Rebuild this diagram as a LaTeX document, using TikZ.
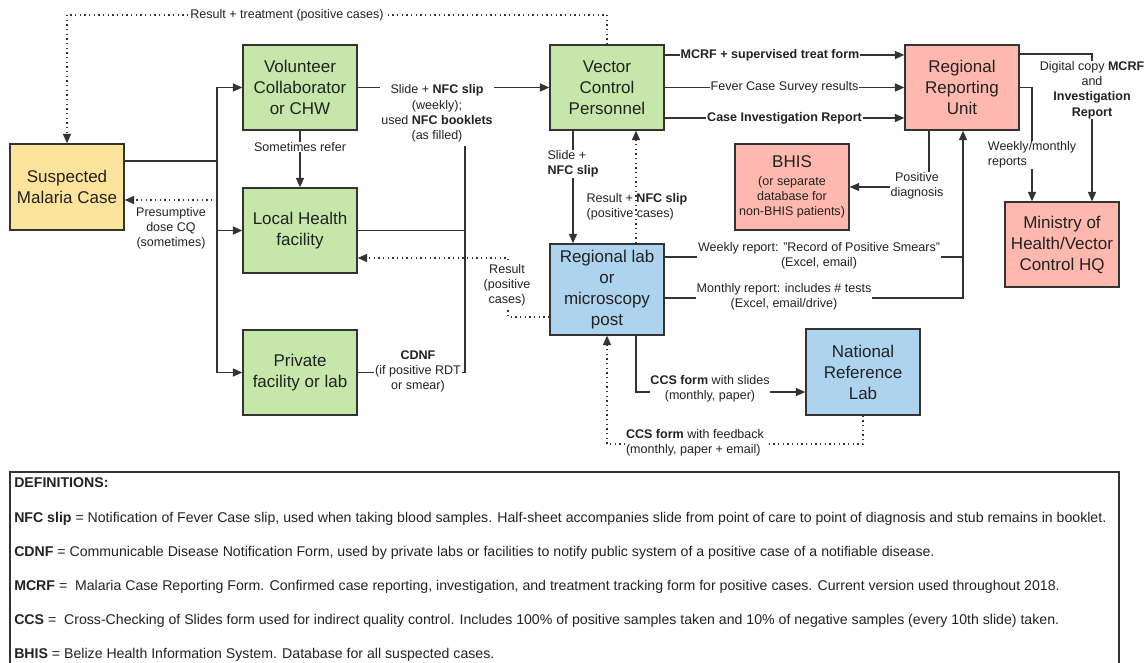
\documentclass[tikz,border=0pt]{standalone}
\usepackage{fontspec}
\setmainfont{Liberation Sans}
\usetikzlibrary{arrows.meta,calc}
\definecolor{edge}{HTML}{333333}
\definecolor{ink}{HTML}{222222}
\definecolor{gfill}{HTML}{C6E7AA}
\definecolor{yfill}{HTML}{FDE49C}
\definecolor{rfill}{HTML}{FFB8AE}
\definecolor{bfill}{HTML}{AED3EE}
\begin{document}
\begin{tikzpicture}[x=0.75pt,y=-0.75pt,
  box/.style={draw=edge,line width=1.05pt,minimum width=85.5pt,minimum height=63.75pt,
    align=center,text=ink,font=\fontsize{12.75}{15.75}\selectfont,inner sep=0pt},
  conn/.style={draw=edge,line width=1pt},
  arr/.style={conn,-{Triangle[length=7pt,width=6pt]}},
  dots/.style={conn,dash pattern=on 0.9pt off 2.6pt},
  dotarr/.style={dots,-{Triangle[length=7pt,width=6pt]}},
  lbl/.style={font=\fontsize{9.4}{11.4}\selectfont,text=ink,align=center,inner sep=0.6pt},
  wlbl/.style={lbl,fill=white},
  defl/.style={font=\fontsize{10.6}{12.7}\selectfont,text=ink,anchor=base west,inner sep=0pt},
]
\useasboundingbox (0,0) rectangle (1148,662);

% ---- boxes ----
\node[box,fill=yfill,minimum height=64.5pt] (susp) at (67,187) {Suspected\\Malaria Case};
\node[box,fill=gfill] (vol) at (300,87.5) {Volunteer\\Collaborator\\or CHW};
\node[box,fill=gfill] (loc) at (300,230.5) {Local Health\\facility};
\node[box,fill=gfill] (priv) at (300,372.5) {Private\\facility or lab};
\node[box,fill=gfill] (vec) at (607,87.5) {Vector\\Control\\Personnel};
\node[box,fill=rfill] (rep) at (962,87.5) {Regional\\Reporting\\Unit};
\node[box,fill=rfill,minimum height=64.5pt,font=\fontsize{9.4}{11.25}\selectfont] (bhis) at (792,187)
  {{\fontsize{12.75}{15}\selectfont BHIS}\\[2pt](or separate\\database for\\non-BHIS patients)};
\node[box,fill=rfill] (min) at (1062,244.5) {Ministry of\\Health/Vector\\Control HQ};
\node[box,fill=bfill,minimum height=68.25pt] (lab) at (607,289.5) {Regional lab\\or\\microscopy\\post};
\node[box,fill=bfill,minimum height=64.5pt] (nrl) at (863,372) {National\\Reference\\Lab};

% ---- suspected case fans out to the points of care ----
\coordinate (tk) at (217,161);
\draw[conn] (tk -| susp.east) -- (tk);
\draw[arr] (tk) |- (vol.west);
\draw[arr] (tk) |- (loc.west);
\draw[arr] (tk) |- (priv.west);
\coordinate (pd) at (217,200);
\draw[dotarr] (pd) -- (pd -| susp.east);
\node[lbl] (pdl) at (171,228) {Presumptive\\dose CQ\\(sometimes)};

% ---- volunteer / facilities to vector control ----
\draw[arr] (vol.south) -- (loc.north);
\node[wlbl] (refl) at (300,147) {Sometimes refer};
\draw[arr] (vol.east) -- (vec.west);
\coordinate (jx) at (465,146);
\draw[conn] (loc.east) -- (loc.east -| jx);
\draw[conn] (priv.east) -- (priv.east -| jx) -- (jx);
\node[wlbl] (nfcl) at (437,113.5) {Slide + \textbf{NFC slip}\\(weekly);\\used \textbf{NFC booklets}\\(as filled)};
\node[wlbl] (cdnf) at (418,371.5) {\textbf{CDNF}\\(if positive RDT\\or smear)};

% ---- result back to the patient ----
\coordinate (top) at (607,15);
\draw[dotarr] (vec.north) -- (top) -| (susp.north);
\node[wlbl,inner sep=2pt] (rtl) at (287,15) {Result + treatment (positive cases)};

% ---- vector control and regional lab ----
\coordinate (vx1) at (573,0);
\draw[arr] (vx1 |- vec.south) -- (vx1 |- lab.north);
\node[wlbl,align=left] (sll) at (573,164) {Slide +\\\textbf{NFC slip}};
\coordinate (vx2) at (636,0);
\draw[dotarr] (vx2 |- lab.north) -- (vx2 |- vec.south);
\node[lbl,align=left] (rnl) at (637,207) {Result + \textbf{NFC slip}\\(positive cases)};

% ---- vector control to regional reporting unit ----
\coordinate (r1) at (0,55);
\coordinate (r3) at (0,118);
\draw[arr] (vec.east |- r1) -- (rep.west |- r1);
\draw[arr] (vec.east) -- (rep.west);
\draw[arr] (vec.east |- r3) -- (rep.west |- r3);
\node[wlbl] (mcrfl) at (770,55) {\textbf{MCRF + supervised treat form}};
\node[wlbl] (fcsl) at (784.5,87.5) {Fever Case Survey results};
\node[wlbl] (cirl) at (784.5,118) {\textbf{Case Investigation Report}};

% ---- reporting unit to BHIS ----
\coordinate (rb) at (929,187);
\draw[arr] (rb |- rep.south) -- (rb) -- (bhis.east);
\node[wlbl] (posl) at (917,186) {Positive\\diagnosis};

% ---- regional lab reports ----
\coordinate (rx) at (963,0);
\coordinate (wk) at (0,257);
\coordinate (mo) at (0,298);
\draw[conn] (lab.east |- wk) -- (rx |- wk);
\draw[arr] (lab.east |- mo) -| (rx |- rep.south);
\node[wlbl] (wkl) at (819,256) {Weekly report: "Record of Positive Smears"\\(Excel, email)};
\node[wlbl] (mol) at (784,297) {Monthly report: includes \# tests\\(Excel, email/drive)};

% ---- reporting unit to ministry ----
\coordinate (mx1) at (1092,54);
\draw[arr] (rep.east |- mx1) -| (mx1 |- min.north);
\node[wlbl] (dcl) at (1092,90) {Digital copy \textbf{MCRF}\\and\\\textbf{Investigation}\\\textbf{Report}};
\coordinate (mx2) at (1032,0);
\draw[arr] (rep.east) -| (mx2 |- min.north);
\node[wlbl,align=left] (wml) at (1032,155) {Weekly/monthly\\reports};

% ---- results back to local facility ----
\coordinate (rl1) at (508,317);
\coordinate (rl2) at (508,258);
\draw[dotarr] (lab.west |- rl1) -- (rl1) -- (rl2) -- (loc.east |- rl2);
\node[wlbl] (rsl) at (507,285) {Result\\(positive\\cases)};

% ---- cross-checking with the reference lab ----
\coordinate (lx) at (636,392);
\draw[arr] (lx |- lab.south) -- (lx) -- (nrl.west |- lx);
\node[wlbl] (ccsl) at (710,389) {\textbf{CCS form} with slides\\(monthly, paper)};
\coordinate (fb) at (863,444);
\draw[dotarr] (nrl.south) -- (fb) -| (lab.south);
\node[wlbl,align=left] (fbl) at (695,443) {\textbf{CCS form} with feedback\\(monthly, paper + email)};

% ---- definitions panel ----
\begin{scope}
\clip (0,0) rectangle (1148,662);
\draw[conn,line width=1.05pt] (10,690) -- (10,472) -- (1119,472) -- (1119,690);
\end{scope}
\node[defl] (d0) at (14,487) {\textbf{DEFINITIONS:}};
\node[defl] (d1) at (14,522) {\textbf{NFC slip} = Notification of Fever Case slip, used when taking blood samples. Half-sheet accompanies slide from point of care to point of diagnosis and stub remains in booklet.};
\node[defl] (d2) at (14,556) {\textbf{CDNF} = Communicable Disease Notification Form, used by private labs or facilities to notify public system of a positive case of a notifiable disease.};
\node[defl] (d3) at (14,590) {\textbf{MCRF} =\ \ Malaria Case Reporting Form. Confirmed case reporting, investigation, and treatment tracking form for positive cases. Current version used throughout 2018.};
\node[defl] (d4) at (14,624) {\textbf{CCS} =\ \ Cross-Checking of Slides form used for indirect quality control. Includes 100\% of positive samples taken and 10\% of negative samples (every 10th slide) taken.};
\node[defl] (d5) at (14,658) {\textbf{BHIS} = Belize Health Information System. Database for all suspected cases.};
\end{tikzpicture}
\end{document}
